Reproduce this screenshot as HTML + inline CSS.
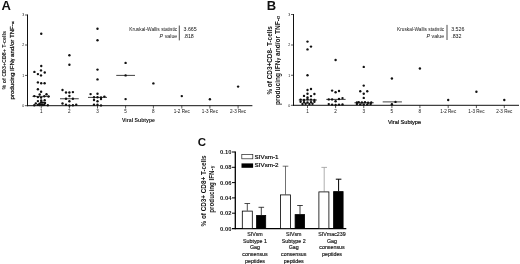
<!DOCTYPE html>
<html><head><meta charset="utf-8"><title>Figure</title>
<style>
html,body{margin:0;padding:0;background:#fff;}
body{width:520px;height:264px;overflow:hidden;font-family:"Liberation Sans",sans-serif;}
svg{display:block;filter:blur(0.3px);font-family:"Liberation Sans",sans-serif;}
text{fill:#111;}
</style></head><body>
<svg width="520" height="264" viewBox="0 0 520 264">
<rect width="520" height="264" fill="#fff"/>

<text x="1.5" y="10.3" font-size="13" font-weight="bold" fill="#000">A</text>
<g stroke="#111" stroke-width="1" fill="none">
<line x1="27.5" y1="14.5" x2="27.5" y2="106.2"/>
<line x1="27.0" y1="105.7" x2="252.4" y2="105.7"/>
<line x1="25.0" y1="15" x2="27.5" y2="15" stroke-width="0.7"/>
<line x1="25.0" y1="45" x2="27.5" y2="45" stroke-width="0.7"/>
<line x1="25.0" y1="75.4" x2="27.5" y2="75.4" stroke-width="0.7"/>
<line x1="25.0" y1="105.7" x2="27.5" y2="105.7" stroke-width="0.7"/>
<line x1="41.25" y1="105.7" x2="41.25" y2="108.5" stroke-width="0.7"/>
<line x1="69.4" y1="105.7" x2="69.4" y2="108.5" stroke-width="0.7"/>
<line x1="97.5" y1="105.7" x2="97.5" y2="108.5" stroke-width="0.7"/>
<line x1="125.6" y1="105.7" x2="125.6" y2="108.5" stroke-width="0.7"/>
<line x1="153.4" y1="105.7" x2="153.4" y2="108.5" stroke-width="0.7"/>
<line x1="181.8" y1="105.7" x2="181.8" y2="108.5" stroke-width="0.7"/>
<line x1="209.9" y1="105.7" x2="209.9" y2="108.5" stroke-width="0.7"/>
<line x1="238.1" y1="105.7" x2="238.1" y2="108.5" stroke-width="0.7"/>
<line x1="32.5" y1="96.4" x2="50" y2="96.4" stroke-width="0.8"/>
<line x1="60" y1="98.75" x2="78.75" y2="98.75" stroke-width="0.8"/>
<line x1="88" y1="97.4" x2="107" y2="97.4" stroke-width="0.8"/>
<line x1="116.25" y1="75.4" x2="135" y2="75.4" stroke-width="0.8"/>
</g>
<g fill="#111">
<circle cx="41.25" cy="33.75" r="1.2"/>
<circle cx="41.25" cy="66" r="1.2"/>
<circle cx="34.4" cy="71.9" r="1.2"/>
<circle cx="41" cy="70.4" r="1.2"/>
<circle cx="44.75" cy="72.5" r="1.2"/>
<circle cx="37.9" cy="74.1" r="1.2"/>
<circle cx="41" cy="75.4" r="1.2"/>
<circle cx="37.9" cy="82.4" r="1.2"/>
<circle cx="41.2" cy="83.3" r="1.2"/>
<circle cx="44.6" cy="83.3" r="1.2"/>
<circle cx="37.9" cy="89.3" r="1.2"/>
<circle cx="41.1" cy="91.8" r="1.2"/>
<circle cx="39.7" cy="94.5" r="1.2"/>
<circle cx="46.5" cy="94.2" r="1.2"/>
<circle cx="34.3" cy="96.1" r="1.2"/>
<circle cx="37.9" cy="97.1" r="1.2"/>
<circle cx="41.1" cy="97.6" r="1.2"/>
<circle cx="44.3" cy="96.3" r="1.2"/>
<circle cx="48.5" cy="96.5" r="1.2"/>
<circle cx="37.9" cy="101.1" r="1.2"/>
<circle cx="44.7" cy="100.3" r="1.2"/>
<circle cx="41.2" cy="102.2" r="1.2"/>
<circle cx="35.8" cy="103.4" r="1.2"/>
<circle cx="45" cy="103" r="1.2"/>
<circle cx="39.5" cy="103.6" r="1.2"/>
<circle cx="34.3" cy="105.2" r="1.2"/>
<circle cx="37.9" cy="104.9" r="1.2"/>
<circle cx="41.2" cy="104.4" r="1.2"/>
<circle cx="44.3" cy="104.9" r="1.2"/>
<circle cx="47.8" cy="105.2" r="1.2"/>
<circle cx="39.6" cy="105" r="1.2"/>
<circle cx="42.8" cy="105" r="1.2"/>
<circle cx="41.2" cy="100.4" r="1.2"/>
<circle cx="42.9" cy="102.6" r="1.2"/>
<circle cx="69.4" cy="55.25" r="1.2"/>
<circle cx="69.4" cy="64.75" r="1.2"/>
<circle cx="62.5" cy="90" r="1.2"/>
<circle cx="66" cy="92.5" r="1.2"/>
<circle cx="69.4" cy="92.5" r="1.2"/>
<circle cx="72.9" cy="92.1" r="1.2"/>
<circle cx="69.4" cy="96" r="1.2"/>
<circle cx="66" cy="98.75" r="1.2"/>
<circle cx="72.9" cy="98.75" r="1.2"/>
<circle cx="69.4" cy="101.25" r="1.2"/>
<circle cx="62.5" cy="103.5" r="1.2"/>
<circle cx="66" cy="104.75" r="1.2"/>
<circle cx="69.4" cy="105.4" r="1.2"/>
<circle cx="72.9" cy="105.2" r="1.2"/>
<circle cx="76.2" cy="104.75" r="1.2"/>
<circle cx="97.5" cy="28.75" r="1.2"/>
<circle cx="97.5" cy="40.3" r="1.2"/>
<circle cx="97.5" cy="69.6" r="1.2"/>
<circle cx="97.5" cy="79.4" r="1.2"/>
<circle cx="90.6" cy="94.1" r="1.2"/>
<circle cx="97.5" cy="93.75" r="1.2"/>
<circle cx="94" cy="97.25" r="1.2"/>
<circle cx="97.5" cy="97.25" r="1.2"/>
<circle cx="101" cy="97.5" r="1.2"/>
<circle cx="104.4" cy="96.6" r="1.2"/>
<circle cx="94" cy="100" r="1.2"/>
<circle cx="101" cy="99" r="1.2"/>
<circle cx="97.5" cy="101.25" r="1.2"/>
<circle cx="94" cy="104.75" r="1.2"/>
<circle cx="97.5" cy="104.75" r="1.2"/>
<circle cx="101" cy="105.4" r="1.2"/>
<circle cx="125.6" cy="62.9" r="1.2"/>
<circle cx="125.6" cy="75.4" r="1.2"/>
<circle cx="125.6" cy="99.1" r="1.2"/>
<circle cx="153.4" cy="83.4" r="1.2"/>
<circle cx="181.8" cy="96.1" r="1.2"/>
<circle cx="209.9" cy="99.3" r="1.2"/>
<circle cx="238.1" cy="86.6" r="1.2"/>
</g>
<g font-size="3.6" text-anchor="end" fill="#333">
<text x="24.3" y="16.3">3</text>
<text x="24.3" y="46.3">2</text>
<text x="24.3" y="76.7">1</text>
<text x="24.3" y="107.0">0</text>
</g>
<g font-size="4.6" text-anchor="middle" fill="#333">
<text x="41.25" y="113.10000000000001">1</text>
<text x="69.4" y="113.10000000000001">2</text>
<text x="97.5" y="113.10000000000001">3</text>
<text x="125.6" y="113.10000000000001">5</text>
<text x="153.4" y="113.10000000000001">8</text>
<text x="181.8" y="113.10000000000001">1-2 Rec</text>
<text x="209.9" y="113.10000000000001">1-3 Rec</text>
<text x="238.1" y="113.10000000000001">2-3 Rec</text>
</g>
<text transform="translate(5.8,60.3) rotate(-90)" text-anchor="middle" font-size="6" font-weight="bold" textLength="58.5" lengthAdjust="spacingAndGlyphs">% of CD3+CD8+ T-cells</text>
<text transform="translate(14.2,60.5) rotate(-90)" text-anchor="middle" font-size="6" stroke="#111" stroke-width="0.25" textLength="78" lengthAdjust="spacingAndGlyphs">producing IFN<tspan font-size="4.6">&#947;</tspan> and/or TNF-<tspan font-size="4.4">&#945;</tspan></text>
<text x="138.5" y="122" text-anchor="middle" font-size="5.6" font-weight="bold" textLength="33" lengthAdjust="spacingAndGlyphs">Viral Subtype</text>
<g font-size="5.3" fill="#222">
<text x="177.3" y="31" text-anchor="end" textLength="48" lengthAdjust="spacingAndGlyphs">Kruskal-Wallis statistic</text>
<text x="177.3" y="38.3" text-anchor="end"><tspan font-style="italic">P</tspan> value</text>
<text x="183.5" y="31">3.665</text>
<text x="183.5" y="38.3">.818</text>
</g>
<line x1="179.3" y1="25.5" x2="179.3" y2="40.4" stroke="#222" stroke-width="0.8"/>
<text x="266.8" y="10.3" font-size="13" font-weight="bold" fill="#000">B</text>
<g stroke="#111" stroke-width="1" fill="none">
<line x1="293.5" y1="14" x2="293.5" y2="105.8"/>
<line x1="293.0" y1="105.3" x2="519" y2="105.3"/>
<line x1="291.0" y1="14.5" x2="293.5" y2="14.5" stroke-width="0.7"/>
<line x1="291.0" y1="45" x2="293.5" y2="45" stroke-width="0.7"/>
<line x1="291.0" y1="75.25" x2="293.5" y2="75.25" stroke-width="0.7"/>
<line x1="291.0" y1="105.3" x2="293.5" y2="105.3" stroke-width="0.7"/>
<line x1="307.5" y1="105.3" x2="307.5" y2="108.1" stroke-width="0.7"/>
<line x1="335.6" y1="105.3" x2="335.6" y2="108.1" stroke-width="0.7"/>
<line x1="363.75" y1="105.3" x2="363.75" y2="108.1" stroke-width="0.7"/>
<line x1="391.9" y1="105.3" x2="391.9" y2="108.1" stroke-width="0.7"/>
<line x1="419.9" y1="105.3" x2="419.9" y2="108.1" stroke-width="0.7"/>
<line x1="448.2" y1="105.3" x2="448.2" y2="108.1" stroke-width="0.7"/>
<line x1="476.4" y1="105.3" x2="476.4" y2="108.1" stroke-width="0.7"/>
<line x1="504.3" y1="105.3" x2="504.3" y2="108.1" stroke-width="0.7"/>
<line x1="298.75" y1="100" x2="316.9" y2="100" stroke-width="0.8"/>
<line x1="326.25" y1="99.4" x2="345.6" y2="99.4" stroke-width="0.8"/>
<line x1="354.4" y1="102.75" x2="373.75" y2="102.75" stroke-width="0.8"/>
<line x1="382.7" y1="101.9" x2="401.9" y2="101.9" stroke-width="0.8"/>
</g>
<g fill="#111">
<circle cx="307.5" cy="41.6" r="1.2"/>
<circle cx="311" cy="46.6" r="1.2"/>
<circle cx="307.5" cy="49.4" r="1.2"/>
<circle cx="307.5" cy="75.25" r="1.2"/>
<circle cx="307.5" cy="90" r="1.2"/>
<circle cx="311" cy="89" r="1.2"/>
<circle cx="307.5" cy="93.75" r="1.2"/>
<circle cx="314.4" cy="94" r="1.2"/>
<circle cx="304" cy="95.9" r="1.2"/>
<circle cx="311" cy="96.1" r="1.2"/>
<circle cx="307.5" cy="97.5" r="1.2"/>
<circle cx="300.6" cy="99.6" r="1.2"/>
<circle cx="304" cy="100" r="1.2"/>
<circle cx="307.5" cy="99.25" r="1.2"/>
<circle cx="311" cy="99.6" r="1.2"/>
<circle cx="314.4" cy="100" r="1.2"/>
<circle cx="300.6" cy="101.75" r="1.2"/>
<circle cx="304" cy="102.1" r="1.2"/>
<circle cx="307.5" cy="102.5" r="1.2"/>
<circle cx="311" cy="102.1" r="1.2"/>
<circle cx="314.4" cy="101.75" r="1.2"/>
<circle cx="302.5" cy="104" r="1.2"/>
<circle cx="305.6" cy="103.75" r="1.2"/>
<circle cx="309.4" cy="104" r="1.2"/>
<circle cx="312.5" cy="103.75" r="1.2"/>
<circle cx="335.6" cy="60" r="1.2"/>
<circle cx="332.1" cy="90.6" r="1.2"/>
<circle cx="335.6" cy="92.25" r="1.2"/>
<circle cx="339" cy="91" r="1.2"/>
<circle cx="328.75" cy="99.4" r="1.2"/>
<circle cx="332.1" cy="99.4" r="1.2"/>
<circle cx="339" cy="99" r="1.2"/>
<circle cx="342.5" cy="98.1" r="1.2"/>
<circle cx="335.6" cy="101.25" r="1.2"/>
<circle cx="328.75" cy="104.1" r="1.2"/>
<circle cx="332.1" cy="104.6" r="1.2"/>
<circle cx="335.6" cy="105" r="1.2"/>
<circle cx="339" cy="104.6" r="1.2"/>
<circle cx="342.5" cy="104.4" r="1.2"/>
<circle cx="363.75" cy="66.9" r="1.2"/>
<circle cx="363.75" cy="85.6" r="1.2"/>
<circle cx="360.25" cy="91.25" r="1.2"/>
<circle cx="367.25" cy="91.25" r="1.2"/>
<circle cx="363.75" cy="93.75" r="1.2"/>
<circle cx="363.75" cy="97.9" r="1.2"/>
<circle cx="356.9" cy="102.5" r="1.2"/>
<circle cx="358.75" cy="102.25" r="1.2"/>
<circle cx="361.9" cy="102.5" r="1.2"/>
<circle cx="365" cy="102.25" r="1.2"/>
<circle cx="368.1" cy="102.75" r="1.2"/>
<circle cx="371.25" cy="102.5" r="1.2"/>
<circle cx="356.9" cy="104" r="1.2"/>
<circle cx="360.25" cy="104.4" r="1.2"/>
<circle cx="363.75" cy="104.4" r="1.2"/>
<circle cx="367.25" cy="104.4" r="1.2"/>
<circle cx="370.6" cy="104" r="1.2"/>
<circle cx="391.9" cy="78.5" r="1.2"/>
<circle cx="395.5" cy="101.9" r="1.2"/>
<circle cx="391.9" cy="104.2" r="1.2"/>
<circle cx="419.9" cy="68.5" r="1.2"/>
<circle cx="448.2" cy="100" r="1.2"/>
<circle cx="476.4" cy="91.7" r="1.2"/>
<circle cx="504.3" cy="100" r="1.2"/>
</g>
<g font-size="3.6" text-anchor="end" fill="#333">
<text x="290.3" y="15.8">3</text>
<text x="290.3" y="46.3">2</text>
<text x="290.3" y="76.55">1</text>
<text x="290.3" y="106.6">0</text>
</g>
<g font-size="4.6" text-anchor="middle" fill="#333">
<text x="307.5" y="112.7">1</text>
<text x="335.6" y="112.7">2</text>
<text x="363.75" y="112.7">3</text>
<text x="391.9" y="112.7">5</text>
<text x="419.9" y="112.7">8</text>
<text x="448.2" y="112.7">1-2 Rec</text>
<text x="476.4" y="112.7">1-3 Rec</text>
<text x="504.3" y="112.7">2-3 Rec</text>
</g>
<text transform="translate(271.8,60.4) rotate(-90)" text-anchor="middle" font-size="7" font-weight="bold" textLength="68.4" lengthAdjust="spacingAndGlyphs">% of CD3+CD8- T-cells</text>
<text transform="translate(279.8,60.6) rotate(-90)" text-anchor="middle" font-size="7" font-weight="bold" textLength="89" lengthAdjust="spacingAndGlyphs">producing IFN<tspan font-size="5.4">&#947;</tspan> and/or TNF-<tspan font-size="5.2">&#945;</tspan></text>
<text x="404.5" y="124.4" text-anchor="middle" font-size="5.6" stroke="#111" stroke-width="0.2" textLength="33" lengthAdjust="spacingAndGlyphs">Viral Subtype</text>
<g font-size="5.3" fill="#222">
<text x="444.2" y="30.6" text-anchor="end" textLength="47.2" lengthAdjust="spacingAndGlyphs">Kruskal-Wallis statistic</text>
<text x="444.2" y="38" text-anchor="end"><tspan font-style="italic">P</tspan> value</text>
<text x="451.2" y="30.6">3.526</text>
<text x="451.2" y="38">.832</text>
</g>
<line x1="447" y1="24.9" x2="447" y2="40" stroke="#222" stroke-width="0.8"/>
<text x="197.8" y="146" font-size="11.5" font-weight="bold" fill="#000">C</text>
<g stroke="#000" fill="none">
<line x1="235.3" y1="151.5" x2="235.3" y2="229.2" stroke-width="1.3"/>
<line x1="232" y1="228.6" x2="346.3" y2="228.6" stroke-width="1.3"/>
<line x1="232" y1="152" x2="235.3" y2="152" stroke-width="1"/>
<line x1="232" y1="167.3" x2="235.3" y2="167.3" stroke-width="1"/>
<line x1="232" y1="182.6" x2="235.3" y2="182.6" stroke-width="1"/>
<line x1="232" y1="197.9" x2="235.3" y2="197.9" stroke-width="1"/>
<line x1="232" y1="213.2" x2="235.3" y2="213.2" stroke-width="1"/>
</g>
<g font-size="5.8" font-weight="bold" text-anchor="end" fill="#000">
<text x="231.4" y="154.1">0.10</text>
<text x="231.4" y="169.4">0.08</text>
<text x="231.4" y="184.7">0.06</text>
<text x="231.4" y="200.0">0.04</text>
<text x="231.4" y="215.29999999999998">0.02</text>
<text x="231.4" y="230.6">0.00</text>
</g>
<line x1="247.3" y1="203.5" x2="247.3" y2="210.7" stroke="#222" stroke-width="0.8"/>
<line x1="244.5" y1="203.5" x2="250.10000000000002" y2="203.5" stroke="#222" stroke-width="0.8"/>
<rect x="242.3" y="211.1" width="9.999999999999982" height="17.500000000000007" fill="#fff" stroke="#000" stroke-width="0.8"/>
<line x1="261.3" y1="207.3" x2="261.3" y2="215.0" stroke="#111" stroke-width="0.8"/>
<line x1="258.5" y1="207.3" x2="264.1" y2="207.3" stroke="#111" stroke-width="0.8"/>
<rect x="256.59999999999997" y="215.4" width="9.100000000000033" height="13.199999999999994" fill="#000" stroke="#000" stroke-width="0.8"/>
<line x1="285.5" y1="166.2" x2="285.5" y2="194.5" stroke="#333" stroke-width="0.7"/>
<line x1="282.7" y1="166.2" x2="288.3" y2="166.2" stroke="#333" stroke-width="0.7"/>
<rect x="280.5" y="194.9" width="9.899999999999988" height="33.699999999999996" fill="#fff" stroke="#000" stroke-width="0.8"/>
<line x1="300.0" y1="205.5" x2="300.0" y2="214.2" stroke="#111" stroke-width="0.8"/>
<line x1="297.2" y1="205.5" x2="302.8" y2="205.5" stroke="#111" stroke-width="0.8"/>
<rect x="295.09999999999997" y="214.6" width="9.50000000000001" height="14.000000000000005" fill="#000" stroke="#000" stroke-width="0.8"/>
<line x1="324.2" y1="167.4" x2="324.2" y2="191.5" stroke="#999" stroke-width="0.8"/>
<line x1="321.4" y1="167.4" x2="327.0" y2="167.4" stroke="#999" stroke-width="0.8"/>
<rect x="318.9" y="191.9" width="10.00000000000001" height="36.699999999999996" fill="#fff" stroke="#000" stroke-width="0.8"/>
<line x1="338.6" y1="179.2" x2="338.6" y2="191.2" stroke="#000" stroke-width="1.0"/>
<line x1="335.8" y1="179.2" x2="341.40000000000003" y2="179.2" stroke="#000" stroke-width="1.0"/>
<rect x="333.59999999999997" y="191.6" width="9.50000000000001" height="37.00000000000001" fill="#000" stroke="#000" stroke-width="0.8"/>
<rect x="241.8" y="154.6" width="11" height="4.2" fill="#fff" stroke="#222" stroke-width="0.7"/>
<rect x="241.5" y="163.4" width="11.6" height="4.4" fill="#000"/>
<text x="254.6" y="158.6" font-size="5.8" textLength="24" lengthAdjust="spacingAndGlyphs" fill="#000" stroke="#000" stroke-width="0.2">SIVsm-1</text>
<text x="254.6" y="167.2" font-size="5.8" textLength="24" lengthAdjust="spacingAndGlyphs" fill="#000" stroke="#000" stroke-width="0.2">SIVsm-2</text>
<text transform="translate(205.7,190.9) rotate(-90)" text-anchor="middle" font-size="6.6" font-weight="bold" textLength="71" lengthAdjust="spacingAndGlyphs" fill="#000">% of CD3+ CD8+ T-cells</text>
<text transform="translate(213.6,189.2) rotate(-90)" text-anchor="middle" font-size="6.6" font-weight="bold" textLength="47" lengthAdjust="spacingAndGlyphs" fill="#000">producing IFN-<tspan font-size="5" dy="0.8">&#947;</tspan></text>
<g font-size="5.3" text-anchor="middle" fill="#111" stroke="#111" stroke-width="0.15">
<text x="255" y="235.9">SIVsm</text>
<text x="255" y="242.65">Subtype 1</text>
<text x="255" y="249.4">Gag</text>
<text x="255" y="256.15">consensus</text>
<text x="255" y="262.9">peptides</text>
<text x="293.75" y="235.9">SIVsm</text>
<text x="293.75" y="242.65">Subtype 2</text>
<text x="293.75" y="249.4">Gag</text>
<text x="293.75" y="256.15">consensus</text>
<text x="293.75" y="262.9">peptides</text>
<text x="332" y="235.9">SIVmac239</text>
<text x="332" y="242.65">Gag</text>
<text x="332" y="249.4">consensus</text>
<text x="332" y="256.15">peptides</text>
</g>
</svg></body></html>
